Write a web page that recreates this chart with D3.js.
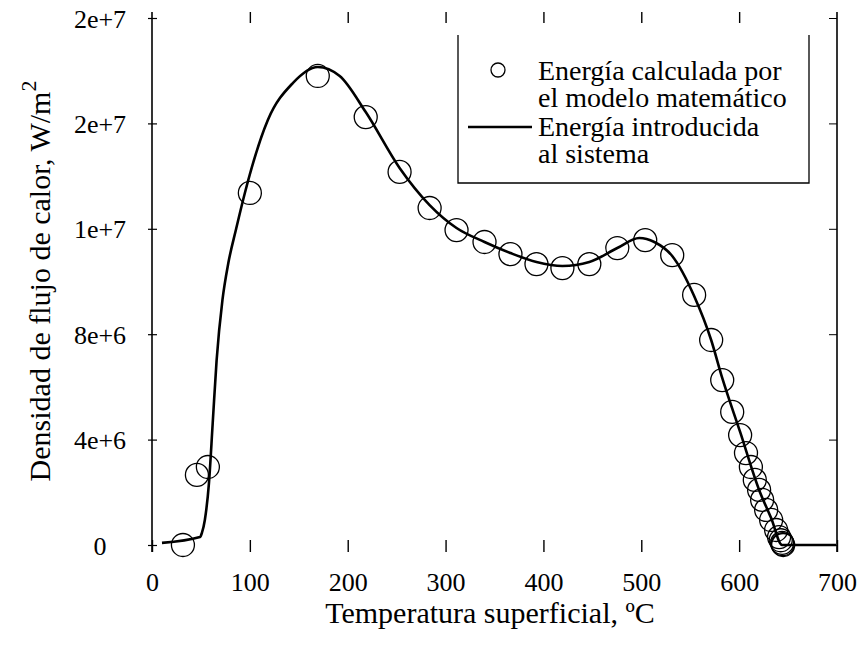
<!DOCTYPE html>
<html>
<head>
<meta charset="utf-8">
<script src="https://cdn.jsdelivr.net/npm/d3@7"></script>
<style>
  body { margin: 0; background: #fff; }
  svg text { font-family: "Liberation Serif", "DejaVu Serif", "Times New Roman", Times, serif; fill: #000; }
</style>
</head>
<body>
<div id="chart"></div>
<script>
// axis ticks, labels as printed on the original figure
const xTicks = [0, 100, 200, 300, 400, 500, 600, 700];
const yTicks = [0, 4e6, 8e6, 1.2e7, 1.6e7, 2e7];
const yTickLabels = ["0", "4e+6", "8e+6", "1e+7", "2e+7", "2e+7"];

// Energía calculada por el modelo matemático (circles)
const calcT = [31.6, 45.9, 57.1, 100, 169.4, 218.4, 253, 283.7, 311.2, 339.8, 366.3, 392.9,
  419.4, 446.9, 475.5, 504, 531.6, 554, 571.4, 582.7, 592.9, 601, 607, 612, 616, 620.4,
  623.5, 627.6, 632.7, 637.8, 640.8, 642.5, 643.9, 644.5, 645];
const calcQ = [0, 2.66e6, 2.96e6, 13.36e6, 17.8e6, 16.24e6, 14.16e6, 12.79e6, 11.95e6, 11.5e6,
  11.04e6, 10.66e6, 10.51e6, 10.66e6, 11.27e6, 11.57e6, 11.0e6, 9.49e6, 7.78e6, 6.26e6,
  5.05e6, 4.17e6, 3.49e6, 2.96e6, 2.47e6, 2.09e6, 1.71e6, 1.33e6, 0.95e6, 0.57e6, 0.3e6,
  0.18e6, 0.08e6, 0.03e6, 0];

// Energía introducida al sistema (solid line)
const inputT = [10.2, 49, 51, 54, 58.2, 62, 66, 72, 78, 86, 94.9, 118.4, 143.9, 169.4, 191.8,
  218.4, 253, 283.7, 311.2, 339.8, 366.3, 392.9, 419.4, 446.9, 475.5, 498, 513.3, 531.6,
  554, 571.4, 582.7, 601, 620.4, 632.7, 643.9, 699];
const inputQ = [0.08e6, 0.3e6, 0.46e6, 0.95e6, 2.35e6, 4.6e6, 7.0e6, 9.3e6, 10.7e6, 12.0e6,
  13.36e6, 16.13e6, 17.53e6, 18.14e6, 17.8e6, 16.43e6, 14.31e6, 12.9e6, 12.03e6, 11.5e6,
  11.08e6, 10.74e6, 10.59e6, 10.74e6, 11.27e6, 11.65e6, 11.5e6, 10.97e6, 9.45e6, 7.78e6,
  6.34e6, 4.29e6, 2.09e6, 1.02e6, 0, 0];

const legendRows = ["Energía calculada por", "el modelo matemático", "Energía introducida", "al sistema"];

const serif = "'Liberation Serif', 'DejaVu Serif', 'Times New Roman', Times, serif";

const createChart = () => {
  var width = 861, height = 645;

  var svg = d3.select("#chart")
    .append("svg")
    .attr("width", width)
    .attr("height", height)
    .attr("font-family", serif);

  var x = d3.scaleLinear().domain([0, 700]).range([152, 837]);
  var y = d3.scaleLinear().domain([0, 2e7]).range([545, 18]);

  // left and right frame lines
  svg.append("line")
    .attr("x1", x(0)).attr("x2", x(0)).attr("y1", 12).attr("y2", 552)
    .style("stroke", "#000").style("stroke-width", 1.6);
  svg.append("line")
    .attr("x1", x(700)).attr("x2", x(700)).attr("y1", 12).attr("y2", 552)
    .style("stroke", "#000").style("stroke-width", 1.6);

  // left ticks + labels
  var yAxis = svg.append("g")
    .attr("transform", "translate(" + (x(0) - 4) + ",0)")
    .call(d3.axisRight(y).tickValues(yTicks).tickSize(9).tickFormat((d, i) => yTickLabels[i]));
  yAxis.attr("font-family", serif).attr("font-size", 26);
  yAxis.select(".domain").remove();
  yAxis.selectAll("line").style("stroke-width", 1.2);
  yAxis.selectAll("text")
    .attr("x", -48)
    .attr("dy", "0.35em")
    .style("text-anchor", "middle");

  // right ticks
  var yRight = svg.append("g")
    .attr("transform", "translate(" + x(700) + ",0)")
    .call(d3.axisLeft(y).tickValues(yTicks).tickSize(8).tickFormat(""));
  yRight.select(".domain").remove();

  // bottom ticks + labels
  var xAxis = svg.append("g")
    .attr("transform", "translate(0,552)")
    .call(d3.axisTop(x).tickValues(xTicks).tickSize(12).tickFormat(d3.format("d")));
  xAxis.attr("font-family", serif).attr("font-size", 26);
  xAxis.select(".domain").remove();
  xAxis.selectAll("line").style("stroke-width", 1.4);
  xAxis.selectAll("text")
    .attr("y", 30)
    .attr("dy", "0.35em");

  // top ticks
  var xTop = svg.append("g")
    .attr("transform", "translate(0,12)")
    .call(d3.axisBottom(x).tickValues(xTicks.slice(1, -1)).tickSize(11).tickFormat(""));
  xTop.select(".domain").remove();
  xTop.selectAll("line").style("stroke-width", 1.4);

  // input energy curve
  var line = d3.line()
    .x((d, i) => x(inputT[i]))
    .y(d => y(d))
    .curve(d3.curveMonotoneX);
  svg.append("path")
    .datum(inputQ)
    .attr("d", line)
    .style("fill", "none")
    .style("stroke", "#000")
    .style("stroke-width", 2.6);

  // calculated energy circles
  svg.selectAll("circle.calc")
    .data(calcQ)
    .join("circle")
    .attr("class", "calc")
    .attr("cx", (d, i) => x(calcT[i]))
    .attr("cy", d => y(d))
    .attr("r", 11.5)
    .style("fill", "none")
    .style("stroke", "#000")
    .style("stroke-width", 1.3);

  // legend box (open top)
  var lg = svg.append("g");
  lg.append("path")
    .attr("d", "M458,35V183H809V35")
    .style("fill", "none")
    .style("stroke", "#000")
    .style("stroke-width", 1.3);
  lg.append("circle")
    .attr("cx", 498).attr("cy", 70).attr("r", 7)
    .style("fill", "none").style("stroke", "#000").style("stroke-width", 1.3);
  lg.append("line")
    .attr("x1", 468).attr("x2", 532).attr("y1", 127).attr("y2", 127)
    .style("stroke", "#000").style("stroke-width", 2.6);
  lg.selectAll("text")
    .data(legendRows)
    .join("text")
    .attr("x", 538)
    .attr("y", (d, i) => [70, 97, 126, 153][i])
    .attr("dy", "0.35em")
    .style("font-size", "28px")
    .text(d => d);

  // axis titles
  svg.append("text")
    .attr("x", 490)
    .attr("y", 623)
    .style("text-anchor", "middle")
    .style("font-size", "30px")
    .text("Temperatura superficial, ºC");

  var yt = svg.append("text")
    .attr("transform", "translate(50,281) rotate(-90)")
    .style("text-anchor", "middle")
    .style("font-size", "30px");
  yt.append("tspan").text("Densidad de flujo de calor, W/m");
  yt.append("tspan").attr("dy", -14).style("font-size", "22px").text("2");
};

createChart();
</script>
</body>
</html>
